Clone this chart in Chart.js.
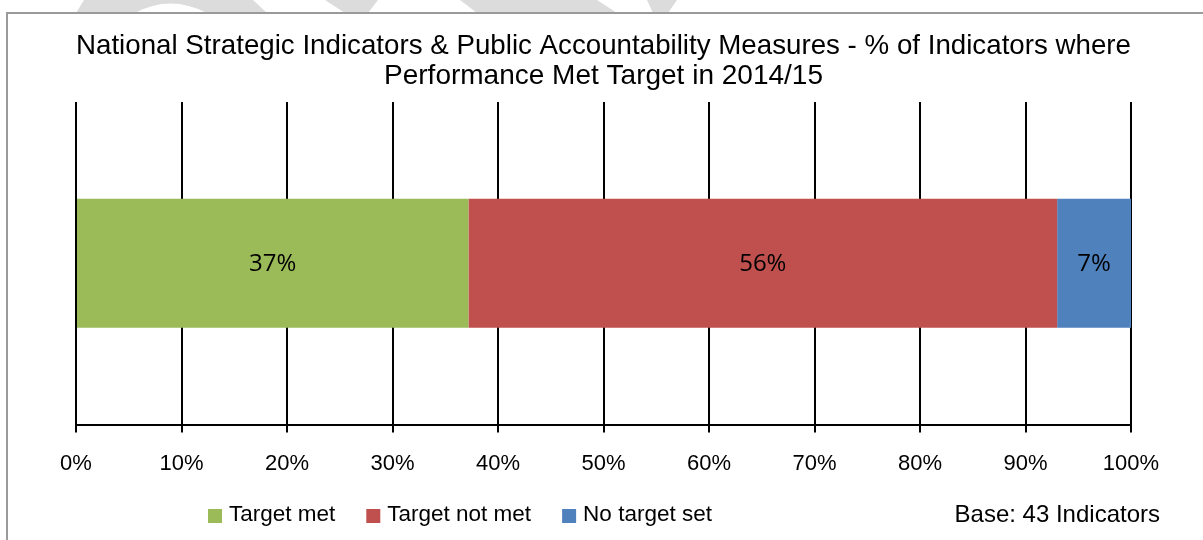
<!DOCTYPE html>
<html>
<head>
<meta charset="utf-8">
<title>Indicadores 2014/15</title>
<script src="https://cdn.jsdelivr.net/npm/chart.js@4.4.1/dist/chart.umd.min.js"></script>
<style>
  html, body { margin: 0; padding: 0; background: #ffffff; }
  #contenedor { width: 1203px; height: 540px; }
</style>
</head>
<body>
<div id="contenedor">
  <canvas id="myChart" width="1203" height="540"></canvas>
</div>
<script>
// Datos (43 indicadores, porcentajes)
const categorias = ['2014/15'];
const nombresSeries = ['Target met', 'Target not met', 'No target set'];
const valoresMet = [37.2];
const valoresNoMet = [55.8];
const valoresSinMeta = [7.0];
const ticksX = [0, 10, 20, 30, 40, 50, 60, 70, 80, 90, 100];
const titulo = [
  'National Strategic Indicators & Public Accountability Measures - % of Indicators where',
  'Performance Met Target in 2014/15'
];
const textoBase = 'Base: 43 Indicators';

const colores = ['#9bbb59', '#c0504d', '#4f81bd'];  // Paleta de Office
const fuente = '"Liberation Sans", Arial, sans-serif';
const fuenteEtiquetas = '"Open Sans", "Noto Sans", sans-serif';

// Fondo blanco, marca de agua superior y borde gris del recuadro
const fondo = {
  id: 'fondo',
  beforeDraw(chart) {
    const ctx = chart.ctx;
    ctx.save();
    ctx.fillStyle = '#ffffff';
    ctx.fillRect(0, 0, chart.width, chart.height);

    // Restos de la marca de agua que asoman por encima del borde
    ctx.fillStyle = '#dcdcdc';
    ctx.beginPath();
    ctx.moveTo(84, 0); ctx.lineTo(253, 0); ctx.lineTo(267, 13); ctx.lineTo(207, 13);
    ctx.quadraticCurveTo(170, -6, 135, 13);
    ctx.lineTo(76, 13);
    ctx.closePath();
    ctx.fill();
    ctx.beginPath();
    ctx.moveTo(325, 0); ctx.lineTo(378, 0); ctx.lineTo(368, 13); ctx.lineTo(345, 13);
    ctx.closePath();
    ctx.fill();
    ctx.beginPath();
    ctx.moveTo(460, 0); ctx.lineTo(597, 0); ctx.lineTo(617, 13); ctx.lineTo(477, 13);
    ctx.closePath();
    ctx.fill();
    ctx.beginPath();
    ctx.moveTo(647, 0); ctx.lineTo(677, 0); ctx.lineTo(668, 13); ctx.lineTo(653, 13);
    ctx.closePath();
    ctx.fill();

    // Recuadro del gráfico
    ctx.fillStyle = '#ffffff';
    ctx.fillRect(7, 13, chart.width - 7, chart.height - 13);
    ctx.strokeStyle = '#9a9a9a';
    ctx.lineWidth = 2;
    ctx.beginPath();
    ctx.moveTo(7, chart.height);
    ctx.lineTo(7, 13);
    ctx.lineTo(chart.width, 13);
    ctx.stroke();
    ctx.restore();
  }
};

// Etiquetas de porcentaje en el centro de cada barra
const etiquetas = {
  id: 'etiquetas',
  afterDatasetsDraw(chart) {
    const ctx = chart.ctx;
    ctx.save();
    ctx.font = '24px ' + fuenteEtiquetas;
    ctx.fillStyle = '#000000';
    ctx.textAlign = 'center';
    ctx.textBaseline = 'middle';
    chart.data.datasets.forEach((dataset, i) => {
      chart.getDatasetMeta(i).data.forEach((barra, j) => {
        const centro = barra.getCenterPoint();
        ctx.fillText(Math.round(dataset.data[j]) + '%', centro.x, centro.y + 1);
      });
    });
    ctx.restore();
  }
};

// Leyenda propia, con la nota de la base a la derecha
const leyenda = {
  id: 'leyenda',
  afterDraw(chart) {
    const ctx = chart.ctx;
    ctx.save();
    ctx.font = '22.5px ' + fuente;
    ctx.textBaseline = 'middle';
    ctx.textAlign = 'left';
    let x = 208;
    const y = 515;
    chart.data.datasets.forEach((dataset) => {
      ctx.fillStyle = dataset.backgroundColor;
      ctx.fillRect(x, y - 6, 14, 14);
      ctx.fillStyle = '#000000';
      ctx.fillText(dataset.label, x + 21, y);
      x += 21 + ctx.measureText(dataset.label).width + 31;  // Espacio hasta el siguiente elemento
    });
    ctx.font = '24px ' + fuente;
    ctx.textAlign = 'right';
    ctx.fillText(textoBase, 1160, y);
    ctx.restore();
  }
};

const ctx = document.getElementById('myChart');
const grafico = new Chart(ctx, {
  type: 'bar',
  data: {
    labels: categorias,
    datasets: [
      { label: nombresSeries[0], data: valoresMet, backgroundColor: colores[0] },
      { label: nombresSeries[1], data: valoresNoMet, backgroundColor: colores[1] },
      { label: nombresSeries[2], data: valoresSinMeta, backgroundColor: colores[2] }
    ]
  },
  options: {
    indexAxis: 'y',
    responsive: false,
    animation: false,
    devicePixelRatio: 1,
    layout: {
      padding: { top: 0, left: 76, right: 72, bottom: 45.1 }
    },
    datasets: {
      bar: { barPercentage: 0.5, categoryPercentage: 0.8, borderWidth: 0 }
    },
    scales: {
      x: {
        stacked: true,
        min: 0,
        max: 100,
        afterBuildTicks: (scale) => { scale.ticks = ticksX.map((v) => ({ value: v })); },
        grid: { color: '#000000', lineWidth: 2, tickLength: 8, drawTicks: true },
        border: { color: '#000000', width: 2 },
        ticks: {
          padding: 18,
          color: '#000000',
          font: { family: fuente, size: 22 },
          maxRotation: 0,
          callback: (v) => v + '%'
        }
      },
      y: {
        stacked: true,
        display: false
      }
    },
    plugins: {
      legend: { display: false },
      tooltip: { enabled: false },
      title: {
        display: true,
        text: titulo,
        color: '#000000',
        font: { family: fuente, size: 28, weight: 'normal', lineHeight: 30 / 28 },
        padding: { top: 31, bottom: 11 }
      }
    }
  },
  plugins: [fondo, etiquetas, leyenda]
});
</script>
</body>
</html>
